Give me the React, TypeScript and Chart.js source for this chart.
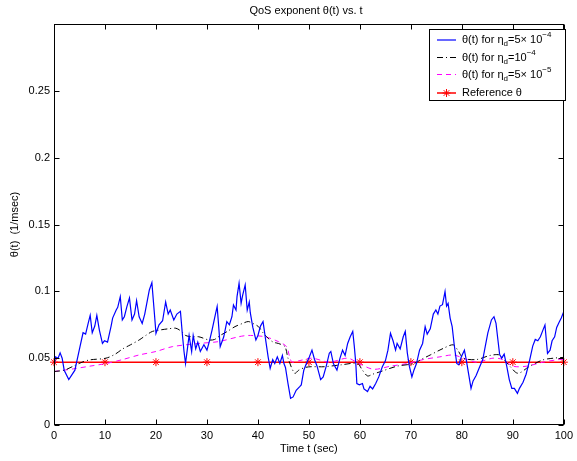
import React, { useEffect, useRef } from 'react';
import { Chart, registerables } from 'chart.js';

Chart.register(...registerables);

// θ(t) for η_d = 5×10^-4 (blue, solid)
const tBlue = [0, 0.3, 0.8, 1.2, 1.6, 2.0, 2.9, 4.1, 5.1, 5.7, 6.2, 6.7, 7.1, 7.5, 8.0, 8.4, 8.9, 9.5, 9.9, 10.5, 11.2, 11.5, 12.2, 12.5, 13.0, 13.4, 13.8, 14.3, 14.8, 15.3, 15.8, 16.2, 16.7, 17.3, 17.8, 18.3, 18.7, 19.2, 19.7, 20.0, 20.6, 21.3, 21.9, 22.4, 22.8, 23.5, 24.1, 24.8, 25.2, 25.5, 25.8, 26.5, 27.0, 27.3, 27.8, 28.2, 28.7, 29.4, 30.0, 30.5, 31.0, 31.7, 32.0, 32.3, 32.6, 33.3, 33.9, 34.4, 34.9, 35.2, 35.7, 35.9, 36.3, 36.7, 37.0, 37.5, 37.9, 38.3, 38.5, 39.0, 39.6, 40.0, 40.5, 41.0, 41.5, 42.0, 42.4, 42.9, 43.3, 43.8, 44.3, 44.8, 45.1, 45.4, 45.9, 46.4, 46.9, 47.5, 48.2, 48.5, 49.0, 49.5, 50.1, 50.6, 51.1, 51.6, 52.3, 52.8, 53.4, 54.0, 54.3, 54.8, 55.5, 56.1, 56.6, 57.1, 57.6, 58.1, 58.6, 58.9, 59.2, 59.4, 59.9, 60.5, 60.8, 61.5, 62.0, 62.5, 63.1, 63.7, 64.4, 65.0, 65.5, 66.0, 66.5, 67.0, 67.3, 67.9, 68.5, 68.9, 69.3, 69.7, 70.2, 70.6, 71.1, 71.7, 72.3, 72.8, 73.2, 73.8, 74.4, 74.9, 75.3, 75.7, 76.2, 76.7, 77.0, 77.3, 77.7, 78.1, 78.5, 79.0, 79.4, 79.9, 80.5, 80.9, 81.2, 81.8, 82.2, 82.8, 83.5, 84.1, 84.6, 85.1, 85.8, 86.3, 86.7, 87.0, 87.4, 87.8, 88.3, 88.8, 89.3, 89.8, 90.3, 90.9, 91.3, 92.0, 92.6, 93.3, 93.9, 94.4, 94.9, 95.4, 95.9, 96.3, 96.8, 97.3, 97.7, 98.2, 98.6, 99.1, 99.5, 100];
const vBlue = [0.044, 0.051, 0.050, 0.054, 0.050, 0.041, 0.034, 0.041, 0.0586, 0.069, 0.068, 0.076, 0.082, 0.069, 0.074, 0.082, 0.071, 0.061, 0.063, 0.062, 0.074, 0.080, 0.086, 0.088, 0.096, 0.0786, 0.081, 0.0886, 0.095, 0.0786, 0.083, 0.093, 0.081, 0.076, 0.083, 0.093, 0.101, 0.1065, 0.083, 0.0686, 0.075, 0.078, 0.092, 0.083, 0.086, 0.0786, 0.083, 0.085, 0.067, 0.055, 0.046, 0.067, 0.055, 0.067, 0.057, 0.062, 0.055, 0.060, 0.056, 0.063, 0.071, 0.0836, 0.0886, 0.074, 0.0586, 0.066, 0.0774, 0.075, 0.081, 0.0898, 0.086, 0.096, 0.106, 0.091, 0.097, 0.1048, 0.086, 0.092, 0.084, 0.073, 0.0636, 0.067, 0.074, 0.0774, 0.064, 0.051, 0.0424, 0.049, 0.046, 0.051, 0.046, 0.052, 0.046, 0.043, 0.031, 0.020, 0.021, 0.026, 0.0287, 0.030, 0.041, 0.046, 0.051, 0.056, 0.049, 0.044, 0.034, 0.036, 0.044, 0.0537, 0.055, 0.046, 0.041, 0.050, 0.056, 0.052, 0.061, 0.066, 0.070, 0.059, 0.046, 0.031, 0.030, 0.031, 0.027, 0.025, 0.029, 0.027, 0.031, 0.036, 0.0436, 0.048, 0.056, 0.0686, 0.063, 0.056, 0.061, 0.057, 0.066, 0.070, 0.054, 0.044, 0.036, 0.041, 0.046, 0.056, 0.061, 0.0736, 0.068, 0.072, 0.083, 0.086, 0.083, 0.089, 0.090, 0.0998, 0.089, 0.091, 0.080, 0.0736, 0.060, 0.046, 0.045, 0.051, 0.056, 0.048, 0.041, 0.0274, 0.033, 0.037, 0.0436, 0.049, 0.059, 0.069, 0.0786, 0.081, 0.076, 0.066, 0.053, 0.050, 0.053, 0.044, 0.034, 0.0274, 0.0274, 0.0237, 0.0274, 0.032, 0.038, 0.0486, 0.059, 0.064, 0.063, 0.066, 0.071, 0.0748, 0.0536, 0.056, 0.063, 0.066, 0.073, 0.077, 0.080, 0.085];

// θ(t) for η_d = 10^-4 (black, dash-dot)
const tBlack = [0, 2, 3.8, 5.5, 7, 10.2, 12, 13.5, 15, 16.7, 18, 19.3, 21, 22.5, 23.9, 25, 25.8, 27, 28.4, 30.4, 31.5, 32.6, 34, 35.5, 37, 38.1, 39, 40.1, 41, 42, 43, 44, 45.3, 45.9, 47.2, 48, 49.2, 50.4, 53, 56.3, 59.5, 60.5, 61.5, 62.5, 64.1, 67.3, 70.6, 72, 73.8, 76.4, 78.3, 79.2, 80.3, 82.9, 85.5, 87.4, 88.5, 89.4, 91, 93.3, 95.9, 98, 100];
const vBlack = [0.040, 0.041, 0.044, 0.047, 0.0487, 0.050, 0.053, 0.057, 0.060, 0.0636, 0.067, 0.070, 0.0712, 0.072, 0.0724, 0.070, 0.067, 0.066, 0.066, 0.0636, 0.064, 0.067, 0.070, 0.0736, 0.076, 0.0774, 0.076, 0.0736, 0.069, 0.0649, 0.062, 0.061, 0.0586, 0.050, 0.0387, 0.041, 0.043, 0.0436, 0.0436, 0.045, 0.046, 0.041, 0.0367, 0.038, 0.040, 0.044, 0.046, 0.049, 0.0524, 0.0574, 0.060, 0.056, 0.050, 0.049, 0.052, 0.0524, 0.048, 0.044, 0.0387, 0.044, 0.0487, 0.050, 0.0506];

// θ(t) for η_d = 5×10^-5 (magenta, dashed)
const tMag = [0, 3.8, 7, 10.2, 13.5, 16.7, 20, 23.2, 28.4, 32.3, 36.2, 38.1, 41.4, 44, 45.6, 46.6, 48, 50.6, 54, 57.6, 59.8, 62.7, 66, 69.3, 72.5, 75.7, 78.3, 80.3, 82.9, 86.1, 88, 90, 92.7, 95.9, 99.1, 100];
const vMag = [0.040, 0.042, 0.044, 0.046, 0.049, 0.0524, 0.055, 0.0586, 0.061, 0.0624, 0.066, 0.067, 0.066, 0.0624, 0.0586, 0.0474, 0.048, 0.050, 0.047, 0.050, 0.046, 0.0417, 0.044, 0.046, 0.049, 0.051, 0.0524, 0.050, 0.047, 0.050, 0.049, 0.044, 0.044, 0.047, 0.049, 0.049];

// Reference θ (red, with * markers)
const tRef = [0, 10, 20, 30, 40, 50, 60, 70, 80, 90, 100];
const vRef = [0.047, 0.047, 0.047, 0.047, 0.047, 0.047, 0.047, 0.047, 0.047, 0.047, 0.047];

const xTicks = [0, 10, 20, 30, 40, 50, 60, 70, 80, 90, 100];
const yTicks = [0, 0.05, 0.1, 0.15, 0.2, 0.25, 0.3];

const titleText = 'QoS exponent θ(t) vs. t';
const xTitle = 'Time t (sec)';
const yTitle = 'θ(t)  (1/msec)';

type Part = { s: string; k?: 'sub' | 'sup' };
const legendRows: Part[][] = [
  [{ s: 'θ(t) for η' }, { s: 'd', k: 'sub' }, { s: '=5× 10' }, { s: '−4', k: 'sup' }],
  [{ s: 'θ(t) for η' }, { s: 'd', k: 'sub' }, { s: '=10' }, { s: '−4', k: 'sup' }],
  [{ s: 'θ(t) for η' }, { s: 'd', k: 'sub' }, { s: '=5× 10' }, { s: '−5', k: 'sup' }],
  [{ s: 'Reference θ' }],
];

const FONT = '"Liberation Sans", Arial, Helvetica, sans-serif';
const DASHDOT = [6, 3, 1, 3];

const zip = (t: number[], v: number[]) => t.map((x, i) => ({ x, y: v[i] }));

function drawRich(ctx: CanvasRenderingContext2D, x: number, y: number, parts: Part[]) {
  let cx = x;
  ctx.textBaseline = 'middle';
  ctx.textAlign = 'left';
  for (const p of parts) {
    let dy = 0;
    if (p.k === 'sub') { ctx.font = `8px ${FONT}`; dy = 4; }
    else if (p.k === 'sup') { ctx.font = `8px ${FONT}`; dy = -5; }
    else ctx.font = `11px ${FONT}`;
    ctx.fillText(p.s, cx, y + dy);
    cx += ctx.measureText(p.s).width;
  }
}

const framePlugin = {
  id: 'frame',
  afterDraw(chart: any) {
    const { ctx, chartArea: a, scales } = chart;
    const L = Math.round(a.left) + 0.5, R = Math.round(a.right) - 0.5;
    const T = Math.round(a.top) + 0.5, B = Math.round(a.bottom) - 0.5;
    ctx.save();
    ctx.strokeStyle = '#000';
    ctx.lineWidth = 1;
    ctx.setLineDash([]);
    ctx.strokeRect(L, T, R - L, B - T);
    ctx.beginPath();
    for (const v of xTicks) {
      const px = Math.round(scales.x.getPixelForValue(v)) + 0.5;
      ctx.moveTo(px, B); ctx.lineTo(px, B - 5);
      ctx.moveTo(px, T); ctx.lineTo(px, T + 5);
    }
    for (const v of yTicks) {
      const py = Math.round(scales.y.getPixelForValue(v)) + 0.5;
      ctx.moveTo(L, py); ctx.lineTo(L + 5, py);
      ctx.moveTo(R, py); ctx.lineTo(R - 5, py);
    }
    ctx.stroke();

    // titles
    ctx.fillStyle = '#000';
    ctx.font = `11px ${FONT}`;
    ctx.textAlign = 'center';
    ctx.textBaseline = 'middle';
    ctx.fillText(titleText, 306, 11);
    ctx.fillText(xTitle, (a.left + a.right) / 2, 449);
    ctx.save();
    ctx.translate(15, (a.top + a.bottom) / 2);
    ctx.rotate(-Math.PI / 2);
    ctx.fillText(yTitle, 0, 0);
    ctx.restore();

    // legend
    const bx = 429.5, by = 29.5, bw = 136, bh = 71;
    ctx.fillStyle = '#fff';
    ctx.fillRect(bx, by, bw, bh);
    ctx.strokeStyle = '#000';
    ctx.strokeRect(bx, by, bw, bh);
    const rowsY = [40, 57.5, 74.5, 93];
    const styles = [
      { c: '#0000ff', d: [] as number[], w: 1.2 },
      { c: '#000000', d: DASHDOT, w: 1 },
      { c: '#ff00ff', d: [5, 4], w: 1 },
      { c: '#ff0000', d: [] as number[], w: 1.5 },
    ];
    rowsY.forEach((yy, i) => {
      const st = styles[i];
      ctx.strokeStyle = st.c;
      ctx.lineWidth = st.w;
      ctx.setLineDash(st.d);
      ctx.beginPath();
      ctx.moveTo(437, yy); ctx.lineTo(456, yy);
      ctx.stroke();
      ctx.setLineDash([]);
      if (i === 3) {
        const cx = 446.5, r = 4;
        ctx.lineWidth = 1;
        ctx.beginPath();
        for (let k = 0; k < 4; k++) {
          const ang = (k * Math.PI) / 4;
          ctx.moveTo(cx - r * Math.cos(ang), yy - r * Math.sin(ang));
          ctx.lineTo(cx + r * Math.cos(ang), yy + r * Math.sin(ang));
        }
        ctx.stroke();
      }
      ctx.fillStyle = '#000';
      drawRich(ctx, 462, yy, legendRows[i]);
    });
    ctx.restore();
  },
};

export default function App() {
  const ref = useRef<HTMLCanvasElement | null>(null);
  useEffect(() => {
    if (!ref.current) return;
    const chart = new Chart(ref.current, {
      type: 'line',
      data: {
        datasets: [
          { label: 'blue', data: zip(tBlue, vBlue), borderColor: '#0000ff', borderWidth: 1.2, pointRadius: 0, tension: 0 },
          { label: 'black', data: zip(tBlack, vBlack), borderColor: '#000000', borderWidth: 1, borderDash: DASHDOT, pointRadius: 0, tension: 0.3 },
          { label: 'magenta', data: zip(tMag, vMag), borderColor: '#ff00ff', borderWidth: 1, borderDash: [5, 4], pointRadius: 0, tension: 0.3 },
          { label: 'ref', data: zip(tRef, vRef), borderColor: '#ff0000', borderWidth: 1.5, pointStyle: 'star', pointRadius: 4, pointBorderColor: '#ff0000', pointBorderWidth: 1, tension: 0, clip: false },
        ],
      },
      options: {
        animation: false,
        responsive: false,
        maintainAspectRatio: false,
        devicePixelRatio: 1,
        layout: { padding: { top: 24, right: 9, left: 0, bottom: 0 } },
        plugins: { legend: { display: false }, title: { display: false }, tooltip: { enabled: false } },
        elements: { line: { fill: false } },
        scales: {
          x: {
            type: 'linear', min: 0, max: 100,
            afterFit: (s: any) => { s.height = 36; },
            afterBuildTicks: (s: any) => { s.ticks = xTicks.map((v) => ({ value: v })); },
            grid: { display: false, drawTicks: false },
            border: { display: false },
            ticks: { padding: 4, color: '#000', font: { family: FONT, size: 11 }, maxRotation: 0, autoSkip: false },
          },
          y: {
            type: 'linear', min: 0, max: 0.3,
            afterFit: (s: any) => { s.width = 54; },
            afterBuildTicks: (s: any) => { s.ticks = yTicks.map((v) => ({ value: v })); },
            grid: { display: false, drawTicks: false },
            border: { display: false },
            ticks: {
              padding: 4, color: '#000', font: { family: FONT, size: 11 }, autoSkip: false,
              callback: (v: any) => (Math.abs(v - 0.3) < 1e-9 ? '' : String(parseFloat(Number(v).toFixed(2)))),
            },
          },
        },
      },
      plugins: [framePlugin],
    });
    return () => chart.destroy();
  }, []);
  return (
    <div style={{ position: 'fixed', left: 0, top: 0, width: 577, height: 461, background: '#fff' }}>
      <canvas ref={ref} width={577} height={461} style={{ width: 577, height: 461 }} />
    </div>
  );
}
